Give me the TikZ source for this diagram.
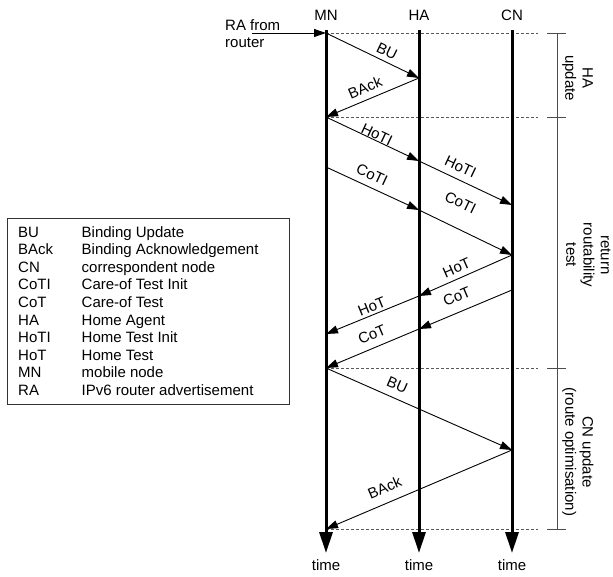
\documentclass[tikz,border=0pt]{standalone}
\usepackage{fontspec}
\setmainfont{Liberation Sans}
\usetikzlibrary{arrows.meta}
\begin{document}
\begin{tikzpicture}[x=1pt,y=-1pt,
  txt/.style={font=\fontsize{15}{17.2}\selectfont, inner sep=0pt},
  life/.style={line width=3pt, -{Triangle[length=21pt,width=13pt]}},
  msg/.style={line width=0.9pt, -{Triangle[length=12pt,width=8pt]}},
  sepline/.style={line width=0.9pt, black!65, dash pattern=on 3pt off 2pt},
  brk/.style={line width=0.8pt, black!70},
  mlbl/.style={txt, sloped},
  rlbl/.style={txt, rotate=-90, anchor=south, align=center}]
\useasboundingbox (0,0) rectangle (613,576);

% lifeline headers and footers
\node[txt, anchor=base] (MN) at (326,20) {MN};
\node[txt, anchor=base] (HA) at (419,20) {HA};
\node[txt, anchor=base] (CN) at (512,20) {CN};
\node[txt, anchor=base] (tMN) at (326,570) {time};
\node[txt, anchor=base] (tHA) at (419,570) {time};
\node[txt, anchor=base] (tCN) at (512,570) {time};

\coordinate (MNa) at (326,30); \coordinate (MNb) at (326,553);
\coordinate (HAa) at (419,30); \coordinate (HAb) at (419,553);
\coordinate (CNa) at (512,30); \coordinate (CNb) at (512,553);

% dashed separators
\foreach \y/\n in {33/s1,117/s2,368/s3,529/s4}{
  \coordinate (\n a) at (326,\y); \coordinate (\n b) at (538,\y);
  \draw[sepline] (\n a) -- (\n b);
  \coordinate (\n l) at (547,\y); \coordinate (\n r) at (566,\y);
  \draw[brk] (\n l) -- (\n r);
}
\coordinate (bt) at (557,33); \coordinate (bb) at (557,529);
\draw[brk] (bt) -- (bb);

\draw[life] (MNa) -- (MNb);
\draw[life] (HAa) -- (HAb);
\draw[life] (CNa) -- (CNb);

% bracket labels
\node[rlbl] (lhau) at (562,78) {HA\\update};
\node[rlbl] (lrrt) at (566,255) {return\\routability\\test};
\node[rlbl] (lcnu) at (562,452) {CN update\\(route optimisation)};

% RA from router
\node[txt, anchor=west, align=left] (RA) at (225,33.5) {RA from\\router};
\coordinate (ra0) at (252,33);
\draw[msg] (ra0) -- (s1a);

% message points
\coordinate (m33) at (326,33);
\coordinate (h78) at (419,78);
\coordinate (m117) at (326,117);
\coordinate (h161) at (419,161);
\coordinate (c205) at (512,205);
\coordinate (m167) at (326,167);
\coordinate (h210) at (419,210);
\coordinate (c255) at (512,255);
\coordinate (h296) at (419,296);
\coordinate (m334) at (326,334);
\coordinate (c290) at (512,290);
\coordinate (h329) at (419,329);
\coordinate (m368) at (326,368);
\coordinate (c450) at (512,450);
\coordinate (m529) at (326,529);

\draw[msg] (m33) -- node[mlbl, pos=0.61, above=4.3pt] (lBU1) {BU} (h78);
\draw[msg] (h78) -- node[mlbl, pos=0.53, above=6.3pt] (lBA1) {BAck} (m117);
\draw[msg] (m117) -- node[mlbl, pos=0.52, above=0.2pt] (lHI1) {HoTI} (h161);
\draw[msg] (h161) -- node[mlbl, pos=0.39, above=6.6pt] (lHI2) {HoTI} (c205);
\draw[msg] (m167) -- node[mlbl, pos=0.44, above=6.6pt] (lCI1) {CoTI} (h210);
\draw[msg] (h210) -- node[mlbl, pos=0.33, above=19pt] (lCI2) {CoTI} (c255);
\draw[msg] (c255) -- node[mlbl, pos=0.55, above=4.8pt] (lHT1) {HoT} (h296);
\draw[msg] (h296) -- node[mlbl, pos=0.475, above=2.1pt] (lHT2) {HoT} (m334);
\draw[msg] (c290) -- node[mlbl, pos=0.53, above=9.4pt] (lCT1) {CoT} (h329);
\draw[msg] (h329) -- node[mlbl, pos=0.45, above=7.5pt] (lCT2) {CoT} (m368);
\draw[msg] (m368) -- node[mlbl, pos=0.354, above=7.6pt] (lBU2) {BU} (c450);
\draw[msg] (c450) -- node[mlbl, pos=0.652, above=9.5pt] (lBA2) {BAck} (m529);

% legend
\node[draw=black!80, line width=0.8pt, minimum width=282pt, minimum height=186pt, inner sep=0pt] (legend) at (148,311) {};
\foreach \abbr/\desc [count=\i from 0] in {
  BU/Binding Update,
  BAck/Binding Acknowledgement,
  CN/correspondent node,
  CoTI/Care-of Test Init,
  CoT/Care-of Test,
  HA/Home Agent,
  HoTI/Home Test Init,
  HoT/Home Test,
  MN/mobile node,
  RA/IPv6 router advertisement}{
  \node[txt, anchor=base west] (lk\i) at (18,237+17.6*\i) {\abbr};
  \node[txt, anchor=base west] (ld\i) at (81.5,237+17.6*\i) {\desc};
}
\end{tikzpicture}
\end{document}
